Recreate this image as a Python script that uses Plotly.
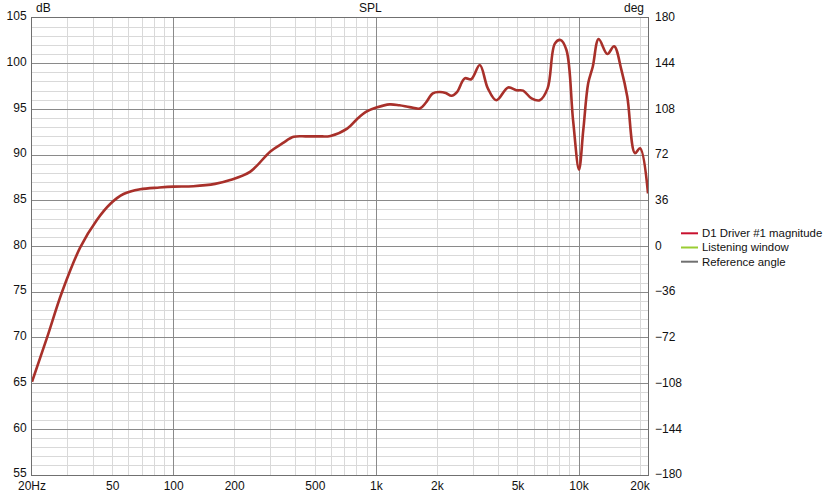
import plotly.graph_objects as go
import numpy as np

freq_hz = [20, 23.7, 28.1, 34.6, 41.8, 48.9, 56.6, 68.4, 85, 100, 125, 160, 190, 239, 300, 345, 391,
           450, 520, 594, 718, 800, 893, 1000, 1163, 1300, 1460, 1640, 1750, 1900, 2050, 2200,
           2350, 2500, 2730, 2940, 3240, 3550, 3910, 4470, 4910, 5300, 5830, 6400, 7000, 7600, 8100,
           8670, 9350, 10000, 10500, 11100, 11700, 12500, 13800, 14900, 16200, 17300, 18900, 20000, 21900]
spl_db = [65.2, 70.0, 75.0, 79.9, 82.9, 84.7, 85.74, 86.26, 86.45, 86.55, 86.6, 86.85, 87.27, 88.2,
          90.4, 91.3, 92.0, 92.05, 92.05, 92.1, 92.9, 93.9, 94.75, 95.2, 95.55, 95.45, 95.25, 95.1,
          95.7, 96.76, 96.9, 96.8, 96.5, 96.9, 98.4, 98.3, 99.85, 97.3, 96.0, 97.4, 97.1, 97.05, 96.2,
          96.0, 97.3, 102.2, 102.6, 101.5, 93.8, 88.4, 92.75, 97.85, 99.7, 102.7, 101.06, 101.9, 99.3,
          96.4, 90.2, 90.74, 85.8]

x_tick_vals = [20, 50, 100, 200, 500, 1000, 2000, 5000, 10000, 20000]
x_tick_text = ["20Hz", "50", "100", "200", "500", "1k", "2k", "5k", "10k", "20k"]
x_minor_vals = [30, 40, 60, 70, 80, 90, 300, 400, 600, 700, 800, 900,
                3000, 4000, 6000, 7000, 8000, 9000]
x_major_vals = [100, 1000, 10000]
deg_ticks = [-180, -144, -108, -72, -36, 0, 36, 72, 108, 144, 180]
legend_names = ["D1 Driver #1 magnitude", "Listening window", "Reference angle"]
legend_colors = ["#c8102e", "#9acd32", "#707070"]

FONT = "Liberation Sans"
MAJOR = "#8a8a8a"
MINOR = "#d9d9d9"

W, H = 831, 494
PL, PR, PT, PB = 32, 648, 18, 475          # plot area in window pixels
L, T = PL, PT
R, B = W - PR, H - PB
PW, PH = PR - PL, PB - PT

def px_x(p):
    return (p - PL) / PW

def px_y(p):
    return (PB - p) / PH

fig = go.Figure()
fig.add_trace(go.Scatter(x=freq_hz, y=spl_db, mode="lines", name=legend_names[0],
                         line=dict(color="#a8302a", width=2.6, shape="spline", smoothing=1.0),
                         showlegend=False, hoverinfo="skip"))
fig.add_trace(go.Scatter(x=[None], y=[None], yaxis="y2", showlegend=False))
fig.add_trace(go.Scatter(x=[None], y=[None], xaxis="x2", showlegend=False))

shapes = []
annotations = [
    dict(text="SPL", x=px_x(370), y=1.0, xref="paper", yref="paper", xanchor="center", yanchor="bottom",
         showarrow=False, yshift=1, font=dict(size=12)),
    dict(text="dB", x=0.0, y=1.0, xref="paper", yref="paper", xanchor="left", yanchor="bottom",
         showarrow=False, xshift=2, yshift=1, font=dict(size=12)),
    dict(text="deg", x=1.0, y=1.0, xref="paper", yref="paper", xanchor="right", yanchor="bottom",
         showarrow=False, xshift=-2, yshift=1, font=dict(size=12)),
]
for i, (nm, col) in enumerate(zip(legend_names, legend_colors)):
    yy = 233.3 + 14.2 * i
    shapes.append(dict(type="line", xref="paper", yref="paper", x0=px_x(681), x1=px_x(698),
                       y0=px_y(yy), y1=px_y(yy), line=dict(color=col, width=2)))
    annotations.append(dict(text=nm, x=px_x(700), y=px_y(yy), xref="paper", yref="paper",
                            xanchor="left", yanchor="middle", showarrow=False, font=dict(size=11.4)))

lo, hi = np.log10(20), np.log10(21900)
fig.update_layout(
    width=W, height=H,
    margin=dict(l=L, r=R, t=T, b=B),
    paper_bgcolor="white", plot_bgcolor="white",
    font=dict(family=FONT, size=12, color="#111111"),
    showlegend=False,
    xaxis=dict(type="log", range=[lo, hi], tickmode="array", tickvals=x_tick_vals, ticktext=x_tick_text,
               showgrid=True, gridcolor=MINOR, gridwidth=1, ticks="", ticklen=0, automargin=False,
               minor=dict(tickmode="array", tickvals=x_minor_vals, showgrid=True, gridcolor=MINOR, gridwidth=1, ticks=""),
               showline=True, linecolor="#707070", linewidth=1, mirror=True, zeroline=False,
               tickfont=dict(size=12)),
    xaxis2=dict(type="log", range=[lo, hi], overlaying="x", tickmode="array", tickvals=x_major_vals, automargin=False,
                showticklabels=False, showgrid=True, gridcolor=MAJOR, gridwidth=1, ticks="", zeroline=False),
    yaxis=dict(range=[55, 105], tickmode="linear", tick0=55, dtick=5, showgrid=True, gridcolor=MAJOR, gridwidth=1,
               minor=dict(dtick=1, showgrid=True, gridcolor=MINOR, gridwidth=1, ticks=""), automargin=False,
               showline=True, linecolor="#707070", linewidth=1, mirror=True, zeroline=False, ticks="",
               ticklabelstandoff=2, ticklabelshift=-2, tickfont=dict(size=12)),
    yaxis2=dict(range=[-180, 180], overlaying="y", side="right", tickmode="array", tickvals=deg_ticks, automargin=False,
                showgrid=False, zeroline=False, ticks="", ticklabelstandoff=6, ticklabelshift=-1, tickfont=dict(size=12)),
    shapes=shapes,
    annotations=annotations,
)
fig.write_html("out.html", config={"displayModeBar": False},
               post_script="document.body.style.margin='0';document.body.style.overflow='hidden';")
